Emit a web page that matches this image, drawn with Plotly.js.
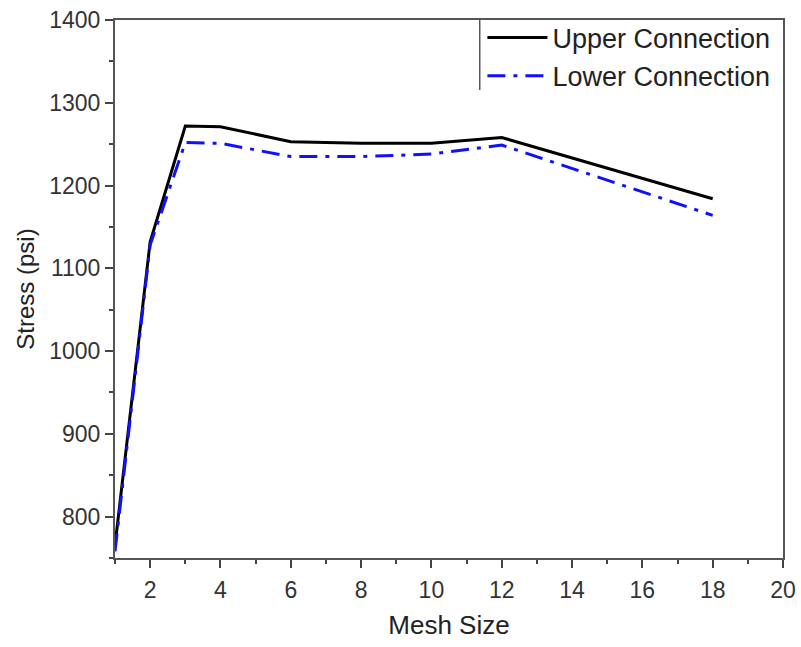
<!DOCTYPE html>
<html>
<head>
<meta charset="utf-8">
<script src="https://cdn.plot.ly/plotly-3.0.1.min.js"></script>
<style>html,body{margin:0;padding:0;background:#fff;}#chart{width:801px;height:647px;}</style>
</head>
<body>
<div id="chart"></div>
<script>
const meshSize = [1, 2, 3, 4, 6, 8, 10, 12, 18];
const upperStress = [765, 1132, 1272, 1271, 1253, 1251, 1251, 1258, 1184];
const lowerStress = [758, 1128, 1252, 1251, 1235, 1235, 1238, 1249, 1164];
const seriesNames = ["Upper Connection", "Lower Connection"];
const xTitle = "Mesh Size";
const yTitle = "Stress (psi)";

const fontFam = "Liberation Sans, Arial, sans-serif";
const traces = [
  {x: meshSize, y: upperStress, name: seriesNames[0], mode: "lines",
   line: {color: "#000000", width: 3}},
  {x: meshSize, y: lowerStress, name: seriesNames[1], mode: "lines",
   line: {color: "#1010ff", width: 3, dash: "18px,8px,4px,8px"}}
];
const axisCommon = {
  showline: true, mirror: true, linecolor: "#555", linewidth: 2,
  ticks: "outside", ticklen: 8, tickwidth: 2, tickcolor: "#444",
  showgrid: false, zeroline: false,
  tickfont: {family: fontFam, size: 23, color: "#333"}
};
const layout = {
  width: 801, height: 647,
  margin: {l: 115, r: 18, t: 20, b: 89},
  paper_bgcolor: "#fff", plot_bgcolor: "#fff",
  showlegend: true,
  legend: {x: 0.550, y: 1.012, xanchor: "left", yanchor: "top",
    bgcolor: "rgba(255,255,255,0)", borderwidth: 0,
    font: {family: fontFam, size: 27, color: "#222"},
    tracegroupgap: 0, itemwidth: 60},
  xaxis: Object.assign({}, axisCommon, {
    range: [1, 20], tick0: 0, dtick: 2, ticklabelstandoff: 2,
    minor: {dtick: 1, ticks: "outside", ticklen: 4, tickwidth: 2, tickcolor: "#444"},
    title: {text: xTitle, font: {family: fontFam, size: 26, color: "#222"}, standoff: 14}
  }),
  yaxis: Object.assign({}, axisCommon, {
    range: [750, 1400], tick0: 0, dtick: 100,
    minor: {dtick: 50, ticks: "outside", ticklen: 4, tickwidth: 2, tickcolor: "#444"},
    title: {text: yTitle, font: {family: fontFam, size: 24, color: "#222"}, standoff: 8}
  }),
  shapes: [
    {type: "line", xref: "paper", yref: "paper", x0: 0.546, x1: 0.546, y0: 0.87, y1: 1,
     line: {color: "#555", width: 1.5}}
  ]
};
Plotly.newPlot("chart", traces, layout, {staticPlot: true, displayModeBar: false});
</script>
</body>
</html>
